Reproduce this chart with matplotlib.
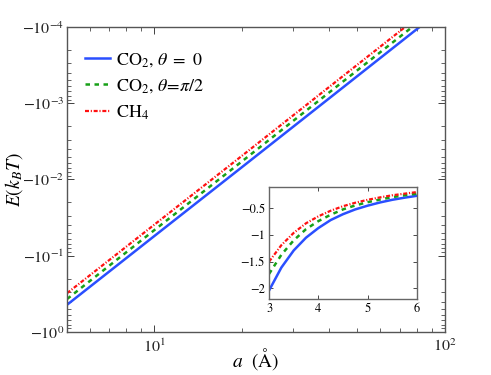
import numpy as np
import matplotlib
matplotlib.use("Agg")
import matplotlib.pyplot as plt
from matplotlib.ticker import FuncFormatter, LogLocator, NullFormatter

plt.rcParams['mathtext.fontset'] = 'stix'
plt.rcParams['font.family'] = 'STIXGeneral'

# main plot: interaction energy vs separation
a_main = [5, 10, 20, 40, 80, 100]
E_co2_0 = [-0.44, -0.055, -0.0069, -0.00086, -0.000107, -0.000055]
E_co2_90 = [-0.37, -0.046, -0.0058, -0.00072, -0.00009, -0.000046]
E_ch4 = [-0.31, -0.039, -0.0049, -0.00061, -0.000076, -0.000039]

# inset: short range, linear axes
a_in = [3.0, 3.25, 3.5, 3.75, 4.0, 4.25, 4.5, 4.75, 5.0, 5.25, 5.5, 5.75, 6.0]
Ein_co2_0 = [-2.04, -1.61, -1.29, -1.05, -0.87, -0.72, -0.61, -0.52, -0.45, -0.39, -0.34, -0.30, -0.265]
Ein_co2_90 = [-1.73, -1.37, -1.10, -0.89, -0.74, -0.62, -0.52, -0.445, -0.385, -0.335, -0.29, -0.255, -0.225]
Ein_ch4 = [-1.50, -1.19, -0.96, -0.78, -0.65, -0.545, -0.46, -0.395, -0.34, -0.295, -0.255, -0.225, -0.195]

labels = [r'CO$_2$, $\theta\ =\ 0$', r'CO$_2$, $\theta\!=\!\pi/2$', r'CH$_4$']
colors = ['#2a4fff', '#17a017', '#ff1010']
dashes = [(None, None), (1.8, 1.8), (1.8, 0.8, 0.5, 0.8)]
widths = [1.8, 1.8, 1.6]

fig = plt.figure(figsize=(4.91, 3.75), dpi=100)
ax = fig.add_axes([0.1365, 0.1147, 0.7695, 0.8133])

for E, lab, c, d, lw in zip([E_co2_0, E_co2_90, E_ch4], labels, colors, dashes, widths):
    ln, = ax.plot(a_main, -np.array(E), color=c, lw=lw, label=lab)
    if d[0] is not None:
        ln.set_dashes(d)

ax.set_xscale('log')
ax.set_yscale('log')
ax.set_xlim(5, 100)
ax.set_ylim(1, 1e-4)

ax.yaxis.set_major_formatter(FuncFormatter(lambda v, p: r'$-10^{%d}$' % round(np.log10(v))))
ax.yaxis.set_minor_formatter(NullFormatter())
ax.xaxis.set_major_formatter(FuncFormatter(lambda v, p: r'$10^{%d}$' % round(np.log10(v))))
ax.xaxis.set_minor_locator(LogLocator(subs=np.arange(2, 10)))
ax.xaxis.set_minor_formatter(NullFormatter())

ax.tick_params(which='both', direction='in', top=True, right=True, labelsize=11.5,
               colors='#222222', pad=2)
ax.tick_params(axis='x', pad=4)
ax.tick_params(which='major', length=5, width=0.6)
ax.tick_params(which='minor', length=3, width=0.5)
for s in ax.spines.values():
    s.set_color('#555555')
    s.set_linewidth(1.0)

ax.set_ylabel(r'$E(k_BT)$', fontsize=14)
ax.yaxis.set_label_coords(-0.112, 0.5)
ax.set_xlabel(r'$a\ \ (\mathrm{\AA})$', fontsize=14)
ax.xaxis.set_label_coords(0.5, -0.045)

ax.legend(loc='upper left', frameon=False, fontsize=13, handlelength=1.35,
          handletextpad=0.35, borderaxespad=0, bbox_to_anchor=(0.029, 0.944),
          labelspacing=0.45)

ins = fig.add_axes([0.548, 0.2027, 0.301, 0.2986])
for E, c, d, lw in zip([Ein_co2_0, Ein_co2_90, Ein_ch4], colors, dashes, widths):
    ln, = ins.plot(a_in, E, color=c, lw=lw)
    if d[0] is not None:
        ln.set_dashes(d)
ins.set_xlim(3, 6)
ins.set_ylim(-2.2, -0.1)
ins.set_xticks([3, 4, 5, 6])
ins.set_yticks([-2, -1.5, -1, -0.5])
ins.set_yticklabels(['\u22122', '\u22121.5', '\u22121', '\u22120.5'])
ins.tick_params(direction='in', top=True, right=True, labelsize=9, length=3, width=0.5, pad=3)
for s in ins.spines.values():
    s.set_color('#666666')
    s.set_linewidth(1.0)

fig.savefig('out.png', dpi=100)
